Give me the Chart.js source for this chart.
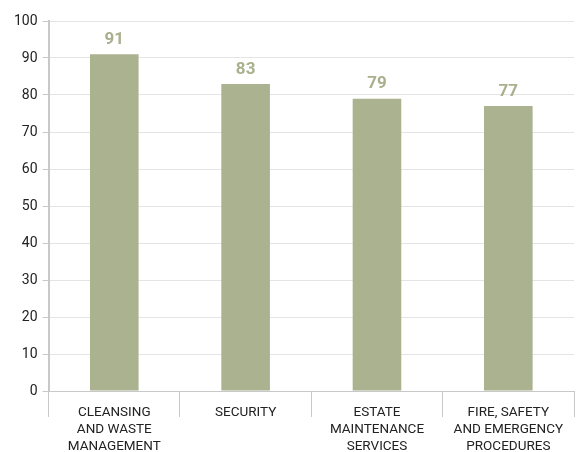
<!DOCTYPE html>
<html><head><meta charset="utf-8">
<script src="https://cdn.jsdelivr.net/npm/chart.js@4/dist/chart.umd.min.js"></script>
<style>html,body{margin:0;padding:0;background:#fff}#wrap{width:576px;height:452px}</style>
</head><body><div id="wrap"><canvas id="c" width="576" height="452"></canvas></div>
<script>
const categories = [["CLEANSING","AND WASTE","MANAGEMENT"],["SECURITY"],["ESTATE","MAINTENANCE","SERVICES"],["FIRE, SAFETY","AND EMERGENCY","PROCEDURES"]];
const values = [91, 83, 79, 77];
const yTicks = [0,10,20,30,40,50,60,70,80,90,100];

const labelPlugin = {
  id: 'valLabels',
  afterDatasetsDraw(chart) {
    const ctx = chart.ctx;
    const meta = chart.getDatasetMeta(0);
    ctx.save();
    ctx.fillStyle = '#a9b08d';
    ctx.font = 'bold 17px Roboto';
    ctx.textAlign = 'center';
    ctx.textBaseline = 'bottom';
    meta.data.forEach((bar, i) => {
      ctx.fillText(String(values[i]), bar.x, bar.y - 6);
    });
    ctx.restore();
  }
};

new Chart(document.getElementById('c'), {
  type: 'bar',
  data: { labels: categories, datasets: [{ data: values, backgroundColor: '#abb28f', barPercentage: 0.37, categoryPercentage: 1 }] },
  options: {
    responsive: false, animation: false,
    layout: { padding: { top: 21, right: 2, left: 9, bottom: 0 } },
    plugins: { legend: { display: false }, tooltip: { enabled: false } },
    scales: {
      x: {
        afterFit(axis) { axis.height = 61; },
        grid: { offset: true, drawOnChartArea: false, drawTicks: true, tickLength: 26, color: '#c8c8c8' },
        border: { color: '#c8c8c8' },
        ticks: { color: '#222', font: { family: 'Roboto', size: 13.5, lineHeight: '17px' }, maxRotation: 0, autoSkip: false, padding: -13 }
      },
      y: {
        min: 0, max: 100,
        afterBuildTicks(axis) { axis.ticks = yTicks.map(v => ({ value: v })); },
        grid: { color: '#e4e4e4', tickLength: 6, tickColor: '#c8c8c8' },
        border: { color: '#c8c8c8', width: 2 },
        ticks: { color: '#222', font: { family: 'Roboto', size: 14 }, padding: 5 }
      }
    }
  },
  plugins: [labelPlugin]
});
</script></body></html>
